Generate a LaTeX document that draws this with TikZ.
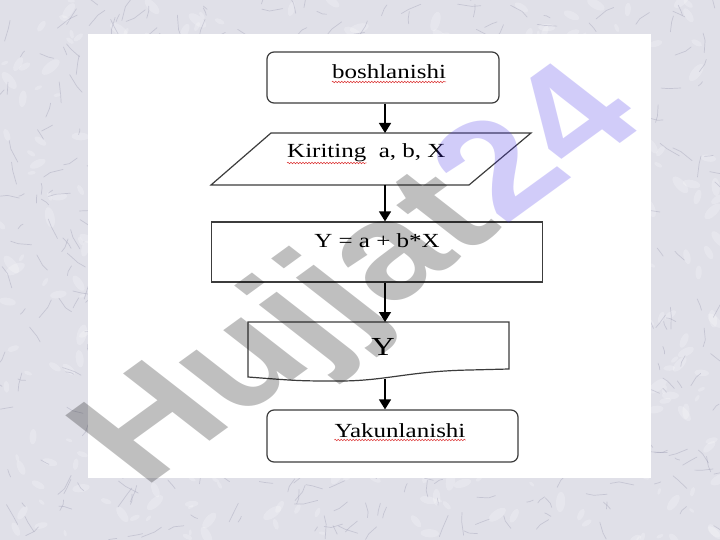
\documentclass[tikz,border=0pt]{standalone}
\usepackage{fontspec}
\setmainfont{Liberation Serif}[FakeStretch=1.25]
\newfontfamily\markfont{Liberation Sans}
\usetikzlibrary{arrows.meta,decorations.pathmorphing,positioning}
\definecolor{marble}{RGB}{224,224,232}
\definecolor{vein}{RGB}{130,130,158}
\definecolor{boxline}{RGB}{60,60,60}
\definecolor{markgray}{RGB}{0,0,0}
\definecolor{marklilac}{RGB}{75,55,235}
\definecolor{spellred}{RGB}{220,50,50}

\begin{document}
\begin{tikzpicture}[x=1bp,y=-1bp,
  fbox/.style={draw=boxline,line width=1.2bp,rounded corners=7bp,inner sep=0pt},
  pbox/.style={draw=boxline,line width=1.2bp,inner sep=0pt},
  txt/.style={inner sep=0pt,font=\fontsize{20bp}{23bp}\selectfont},
  flow/.style={-{Triangle[length=10bp,width=12bp]},line width=1.4bp},
  spell/.style={draw=spellred,line width=0.5bp,decorate,
    decoration={snake,amplitude=0.8bp,segment length=3bp}}]

  % marble background
  \useasboundingbox (0,0) rectangle (720,540);
  \fill[marble] (0,0) rectangle (720,540);
  \pgfmathsetseed{24}
  \foreach \i in {1,...,420}{
    \pgfmathsetmacro\px{rnd*720}
    \pgfmathsetmacro\py{rnd*540}
    \pgfmathsetmacro\rr{3+rnd*8}
    \pgfmathsetmacro\ang{rnd*180}
    \fill[white,opacity=0.22,rotate around={\ang:(\px,\py)}]
      (\px,\py) ellipse[x radius=\rr,y radius=0.45*\rr];
  }
  \foreach \i in {1,...,600}{
    \pgfmathsetmacro\px{rnd*720}
    \pgfmathsetmacro\py{rnd*540}
    \pgfmathsetmacro\ang{rnd*360}
    \pgfmathsetmacro\len{3+rnd*12}
    \draw[vein,opacity=0.28,line width=0.7bp,line cap=round]
      (\px,\py) -- ++(\ang:\len) -- ++(\ang+50*rnd-25:0.6*\len);
  }
  \fill[white] (88,34) rectangle (651,478);

  \coordinate (axis) at (385,0);

  % boxes
  \node[fbox,minimum width=232bp,minimum height=51bp] (start) at (383,77.5) {};
  \draw[pbox] (271,133) coordinate (in-nw) -- (531,133) -- (469,185)
    -- (211,185) coordinate (in-sw) -- cycle;
  \coordinate (in-top) at (385,133);
  \coordinate (in-bot) at (385,185);
  \node[pbox,minimum width=331bp,minimum height=60bp] (calc) at (377,252) {};
  \draw[pbox] (248,322) -- (509,322) -- (509,369) -- (470,370)
    .. controls (410,371) and (385,381) .. (340,381)
    .. controls (300,381) .. (248,377) -- cycle;
  \coordinate (out-top) at (385,322);
  \coordinate (out-bot) at (385,379);
  \node[fbox,minimum width=251bp,minimum height=52bp] (stop) at (392.5,436) {};

  % texts
  \node[txt,anchor=base] (start-txt) at (389,79) {boshlanishi};
  \node[txt,anchor=base west] (in-word) at (287,158) {Kiriting};
  \node[txt,anchor=base west] (in-vars) at ([xshift=12bp]in-word.base east) {a, b, X};
  \node[txt,anchor=base] (calc-txt) at (377,248) {Y = a + b*X};
  \node[txt,anchor=base,font=\fontsize{26bp}{29bp}\selectfont] (out-txt) at (383,355) {Y};
  \node[txt,anchor=base] (stop-txt) at (400,437) {Yakunlanishi};

  % spell marks
  \path[spell] ([yshift=-3bp]start-txt.base west) -- ([yshift=-3bp]start-txt.base east);
  \path[spell] ([yshift=-5bp]in-word.base west) -- ([yshift=-5bp]in-word.base east);
  \path[spell] ([yshift=-3bp]stop-txt.base west) -- ([yshift=-3bp]stop-txt.base east);

  % arrows
  \draw[flow] (start.south -| axis) -- (in-top);
  \draw[flow] (in-bot) -- (calc.north -| axis);
  \draw[flow] (calc.south -| axis) -- (out-top);
  \draw[flow] (out-bot) -- (stop.north -| axis);

  % watermark
  \begin{scope}[shift={(364,280)},xscale=1.33,rotate=44]
    \node[transform shape,inner sep=0pt,text opacity=0.25,
      font=\markfont\bfseries\fontsize{136bp}{136bp}\selectfont] (mark)
      {\textcolor{markgray}{Hujjat}\textcolor{marklilac}{24}};
  \end{scope}
\end{tikzpicture}
\end{document}
